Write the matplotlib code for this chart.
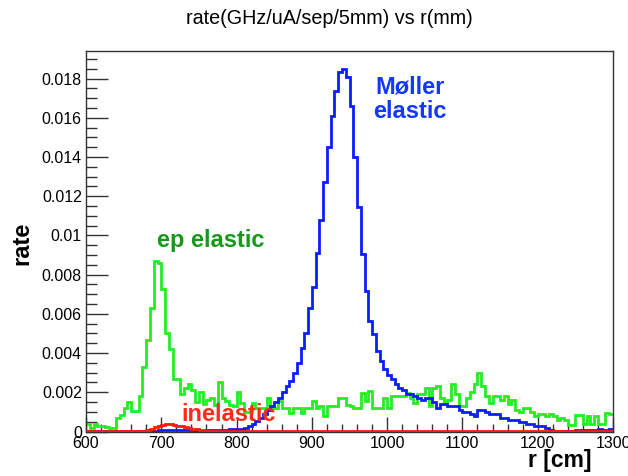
import numpy as np
import matplotlib
matplotlib.use("Agg")
import matplotlib.pyplot as plt
from matplotlib.ticker import MultipleLocator, FuncFormatter

plt.rcParams['font.family'] = ['Liberation Sans', 'DejaVu Sans']

# Bin edges: 600..1300 mm, 5 mm bins
r_min, r_max, r_step = 600, 1300, 5

ep_elastic = [
    0.00038, 0.00017, 0.00038, 0.0003, 0.0003, 0.00025, 0.00017, 0.00017,   # 600-635
    0.00068, 0.00085, 0.0012, 0.00148, 0.00106, 0.00106, 0.0018, 0.00328,    # 640-675
    0.00465, 0.00632, 0.00868, 0.00858, 0.00727, 0.00504, 0.00419, 0.0027,   # 680-715
    0.0027, 0.00191, 0.00222, 0.00243, 0.0021, 0.0015, 0.002, 0.0014,        # 720-755
    0.0016, 0.0017, 0.00137, 0.00253, 0.0017, 0.00154, 0.00137, 0.0013,      # 760-795
    0.002, 0.00145, 0.001, 0.001, 0.00145, 0.0012, 0.0012, 0.0012,           # 800-835
    0.0017, 0.0012, 0.0012, 0.00154, 0.0012, 0.0012, 0.00094, 0.0012,        # 840-875
    0.0012, 0.00094, 0.0012, 0.0012, 0.00157, 0.0012, 0.0013, 0.00077,       # 880-915
    0.0013, 0.0013, 0.0013, 0.0017, 0.0017, 0.00137, 0.0013, 0.0012,         # 920-955
    0.0012, 0.00197, 0.00154, 0.00205, 0.0012, 0.0012, 0.0012, 0.0017,       # 960-995
    0.0012, 0.0018, 0.0018, 0.0018, 0.0018, 0.00197, 0.0017, 0.00145,        # 1000-1035
    0.0019, 0.0019, 0.0022, 0.0013, 0.0022, 0.0023, 0.0017, 0.0015,          # 1040-1075
    0.0016, 0.0024, 0.0019, 0.0013, 0.0013, 0.0017, 0.0020, 0.0024,          # 1080-1115
    0.0030, 0.0023, 0.0018, 0.00145, 0.0018, 0.0018, 0.0016, 0.0018,         # 1120-1155
    0.0014, 0.0016, 0.0011, 0.0010, 0.0012, 0.0012, 0.0010, 0.00077,         # 1160-1195
    0.0009, 0.0009, 0.00077, 0.0009, 0.0008, 0.0006, 0.0007, 0.0006,         # 1200-1235
    0.00034, 0.00034, 0.00085, 0.00085, 0.0004, 0.0008, 0.0004, 0.0008,      # 1240-1275
    0.0004, 0.0004, 0.00094, 0.0009,                                         # 1280-1295
]

moller_elastic = [
    0.00003, 0.00003, 0.00003, 0.00003, 0.00003, 0.00003, 0.00003, 0.00003,  # 600-635
    0.00003, 0.00003, 0.00003, 0.00003, 0.00003, 0.00003, 0.00003, 0.00003,  # 640-675
    0.00003, 0.00004, 0.00005, 0.00006, 0.00008, 0.00008, 0.00009, 0.00009,  # 680-715
    0.00008, 0.00008, 0.00008, 0.00007, 0.00006, 0.00005, 0.00005, 0.00005,  # 720-755
    0.00006, 0.00007, 0.00008, 0.00008, 0.0001, 0.0001, 0.00011, 0.00012,    # 760-795
    0.00013, 0.00015, 0.0002, 0.00028, 0.0004, 0.00055, 0.0007, 0.0009,      # 800-835
    0.0011, 0.0013, 0.0015, 0.0017, 0.0020, 0.0023, 0.0026, 0.0030,          # 840-875
    0.0035, 0.00427, 0.00504, 0.00629, 0.00738, 0.00909, 0.01077, 0.01273,   # 880-915
    0.0145, 0.0161, 0.01738, 0.01833, 0.0185, 0.01809, 0.01658, 0.01402,     # 920-955
    0.01145, 0.00906, 0.00718, 0.00564, 0.00497, 0.0041, 0.0036, 0.0032,     # 960-995
    0.0029, 0.0027, 0.0024, 0.0022, 0.0021, 0.0019, 0.0019, 0.0018,          # 1000-1035
    0.0017, 0.0016, 0.0017, 0.0017, 0.0015, 0.0012, 0.0014, 0.0014,          # 1040-1075
    0.0013, 0.0013, 0.0013, 0.0011, 0.0010, 0.0010, 0.0009, 0.0008,          # 1080-1115
    0.0011, 0.0011, 0.0010, 0.0009, 0.0009, 0.0009, 0.0007, 0.0007,          # 1120-1155
    0.0006, 0.0006, 0.0006, 0.0005, 0.0005, 0.0004, 0.0004, 0.0003,          # 1160-1195
    0.0003, 0.0003, 0.0002, 0.0001, 0.00003, 0.00003, 0.00003, 0.00003,      # 1200-1235
    0.00005, 0.00005, 0.00008, 0.00008, 0.0001, 0.0001, 0.00008, 0.00008,    # 1240-1275
    0.00012, 0.00008, 0.0001, 0.00015,                                       # 1280-1295
]

inelastic = [0.00003] * 16 + [
    0.00008, 0.00015, 0.00022, 0.0003, 0.00035, 0.00037, 0.00037, 0.00035,   # 680-715
    0.0003, 0.00026, 0.00022, 0.00018, 0.00015, 0.00012, 0.0001, 0.00008,    # 720-755
] + [0.00004] * 108

edges = np.arange(r_min, r_max + r_step, r_step)

W, H = 628, 476
fig = plt.figure(figsize=(W / 100, H / 100), dpi=100)
ax_l, ax_r, ax_t, ax_b = 86, 613, 51, 431.5
ax = fig.add_axes([ax_l / W, 1 - ax_b / H, (ax_r - ax_l) / W, (ax_b - ax_t) / H])

green = '#22ee22'
blue = '#0a1eff'
red = '#ff1a0a'

ax.stairs(ep_elastic, edges, baseline=None, color=green, lw=2.0, zorder=2)
ax.stairs(moller_elastic, edges, baseline=None, color=blue, lw=2.0, zorder=3)
ax.stairs(inelastic, edges, baseline=None, color=red, lw=2.0, zorder=4)

ax.set_xlim(r_min, r_max)
ax.set_ylim(0, 0.01941)

ax.xaxis.set_major_locator(MultipleLocator(100))
ax.xaxis.set_minor_locator(MultipleLocator(20))
ax.yaxis.set_major_locator(MultipleLocator(0.002))
ax.yaxis.set_minor_locator(MultipleLocator(0.0005))
ax.yaxis.set_major_formatter(FuncFormatter(lambda v, p: '0' if abs(v) < 1e-12 else ('%g' % round(v, 6))))
ax.xaxis.set_major_formatter(FuncFormatter(lambda v, p: '%d' % v))

ax.tick_params(axis='both', which='both', direction='in', colors='#333333',
               labelcolor='black', labelsize=11.5, top=False, right=False)
ax.tick_params(axis='y', which='major', length=16, width=1.0, pad=3)
ax.tick_params(axis='y', which='minor', length=8, width=1.0)
ax.tick_params(axis='x', which='major', length=11, width=1.0, pad=3)
ax.tick_params(axis='x', which='minor', length=6, width=1.0)
for s in ax.spines.values():
    s.set_color('#333333')
    s.set_linewidth(1.0)

fig.text(0.5 * (183 + 476) / W, 1 - 18 / H, 'rate(GHz/uA/sep/5mm) vs r(mm)',
         ha='center', va='center', fontsize=14.2)
fig.text(22 / W, 1 - 243 / H, 'rate', rotation=90, ha='center', va='center',
         fontsize=17, fontweight='bold')
fig.text(592 / W, 1 - 461 / H, 'r [cm]', ha='right', va='center',
         fontsize=16.5, fontweight='bold')

ax.text(1030, 0.01694, 'Møller\nelastic', color='#1438ff', ha='center', va='center',
        fontsize=17, fontweight='bold', linespacing=1.1)
ax.text(766, 0.00972, 'ep elastic', color='#16991a', ha='center', va='center',
        fontsize=17, fontweight='bold')
ax.text(789, 0.00089, 'inelastic', color='#ff2a18', ha='center', va='center',
        fontsize=17, fontweight='bold', zorder=5)

fig.savefig('out.png', dpi=100)
